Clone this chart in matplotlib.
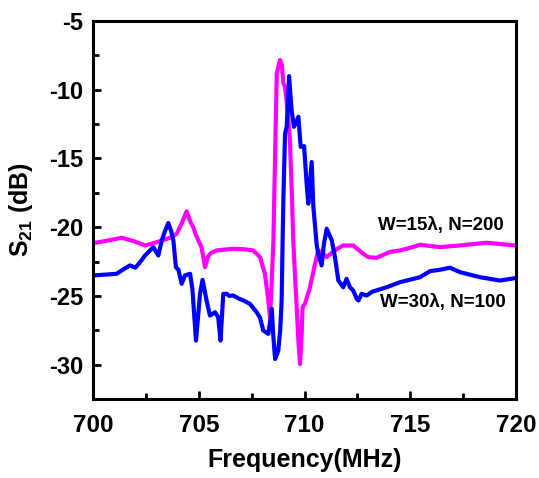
import matplotlib
matplotlib.use("Agg")
import matplotlib.pyplot as plt
from matplotlib.ticker import MultipleLocator

plt.rcParams['font.family'] = ['Liberation Sans', 'DejaVu Sans']
plt.rcParams['font.weight'] = 'bold'
plt.rcParams['axes.unicode_minus'] = False
plt.rcParams['mathtext.fontset'] = 'custom'
plt.rcParams['mathtext.rm'] = 'Liberation Sans:bold'
plt.rcParams['mathtext.bf'] = 'Liberation Sans:bold'

# W=15λ, N=200 (magenta)
freq_w15 = [700.00, 700.60, 701.36, 701.90, 702.46, 703.00, 703.64, 703.96, 704.20, 704.43,
            704.60, 704.74, 704.85, 704.98, 705.13, 705.30, 705.45, 705.60, 705.85, 706.63,
            707.10, 707.58, 707.90, 708.13, 708.29, 708.37, 708.45, 708.53, 708.62, 708.69,
            708.84, 708.93, 709.00, 709.08, 709.20, 709.31, 709.40, 709.47, 709.55, 709.63,
            709.72, 709.79, 709.86, 709.91, 710.02, 710.26, 710.50, 710.65, 710.85, 711.05,
            711.30, 711.52, 711.83, 712.30, 712.78, 713.02, 713.41, 714.04, 714.52, 715.00,
            715.46, 716.41, 717.35, 718.61, 719.95]
s21_w15 = [-21.16, -21.00, -20.77, -21.00, -21.33, -21.10, -20.77, -20.48, -19.70, -18.85,
           -19.60, -19.99, -20.50, -20.96, -21.45, -22.91, -22.10, -21.85, -21.69, -21.57,
           -21.60, -21.69, -22.18, -23.39, -25.33, -26.55, -24.00, -20.96, -14.00, -8.81,
           -7.84, -8.20, -9.54, -9.79, -11.50, -13.67, -17.50, -20.96, -23.50, -25.80,
           -28.50, -29.95, -28.00, -25.80, -25.58, -24.37, -22.66, -21.69, -21.90, -22.18,
           -21.85, -21.60, -21.33, -21.33, -21.93, -22.18, -22.23, -21.80, -21.69, -21.50,
           -21.28, -21.45, -21.33, -21.13, -21.33]

# W=30λ, N=100 (blue)
freq_w30 = [700.00, 700.60, 701.12, 701.45, 701.75, 702.00, 702.20, 702.46, 702.85, 702.95,
            703.09, 703.25, 703.40, 703.56, 703.70, 703.80, 703.92, 704.04, 704.19, 704.35,
            704.59, 704.70, 704.87, 705.06, 705.18, 705.37, 705.53, 705.77, 705.92, 706.03,
            706.16, 706.32, 706.45, 706.63, 706.90, 707.11, 707.42, 707.74, 707.90, 708.05,
            708.29, 708.38, 708.45, 708.52, 708.61, 708.76, 708.85, 708.92, 708.96, 709.00,
            709.08, 709.16, 709.27, 709.39, 709.50, 709.60, 709.71, 709.82, 709.98, 710.10,
            710.18, 710.34, 710.42, 710.58, 710.65, 710.81, 710.92, 711.05, 711.29, 711.44,
            711.60, 711.83, 711.99, 712.15, 712.30, 712.47, 712.55, 712.70, 712.94, 713.20,
            713.88, 714.52, 715.46, 715.93, 716.40, 716.88, 717.35, 718.30, 719.24, 719.95]
s21_w30 = [-23.51, -23.45, -23.39, -23.05, -22.78, -22.95, -22.60, -22.06, -21.45, -21.70,
           -22.06, -20.96, -20.30, -19.70, -20.30, -20.96, -22.91, -23.10, -24.12, -23.51,
           -23.39, -24.50, -28.25, -24.85, -23.83, -25.33, -26.43, -26.19, -26.55, -28.25,
           -24.85, -24.85, -25.00, -24.97, -25.20, -25.33, -25.58, -26.19, -26.60, -27.52,
           -27.76, -26.80, -25.94, -27.80, -29.59, -28.98, -27.50, -25.33, -21.50, -18.05,
           -13.19, -12.70, -9.01, -11.49, -12.70, -12.40, -11.97, -14.16, -14.10, -16.80,
           -18.29, -15.26, -18.53, -21.33, -21.93, -22.78, -21.20, -20.11, -20.96, -22.18,
           -23.88, -24.37, -23.76, -24.37, -24.60, -25.21, -25.33, -24.85, -24.97, -24.70,
           -24.37, -24.00, -23.64, -23.20, -23.10, -22.95, -23.27, -23.64, -23.88, -23.71]

label_w15 = "W=15λ, N=200"
label_w30 = "W=30λ, N=100"

fig = plt.figure(figsize=(5.39, 4.78), dpi=100)
ax = fig.add_axes([93/539, 1 - 399/478, (516 - 93)/539, (399 - 21)/478])

ax.plot(freq_w15, s21_w15, color='#FF00FF', lw=3.0, solid_joinstyle='round')
ax.plot(freq_w30, s21_w30, color='#0000FF', lw=3.0, solid_joinstyle='round')

ax.text(716.45, -19.87, label_w15, fontsize=13.5, fontweight='bold', ha='center', va='center')
ax.text(716.55, -25.48, label_w30, fontsize=13.5, fontweight='bold', ha='center', va='center')

ax.set_xlim(700, 720)
ax.set_ylim(-32.5, -5)
ax.xaxis.set_major_locator(MultipleLocator(5))
ax.xaxis.set_minor_locator(MultipleLocator(2.5))
ax.yaxis.set_major_locator(MultipleLocator(5))
ax.yaxis.set_minor_locator(MultipleLocator(2.5))

ax.tick_params(which='both', direction='in', top=False, right=False, width=2)
ax.tick_params(which='major', length=6)
ax.tick_params(which='minor', length=4)
ax.tick_params(axis='x', which='major', pad=11, labelsize=17.5)
ax.tick_params(axis='y', which='major', pad=7, labelsize=17)
for lab in ax.get_xticklabels() + ax.get_yticklabels():
    lab.set_fontweight('bold')

for sp in ax.spines.values():
    sp.set_linewidth(2.2)

ax.set_xlabel('Frequency(MHz)', fontsize=18, fontweight='bold', labelpad=8)
ax.set_ylabel(r'S$_{\mathrm{21}}$ (dB)', fontsize=18, fontweight='bold', labelpad=10)

fig.savefig('out.png', dpi=100)
